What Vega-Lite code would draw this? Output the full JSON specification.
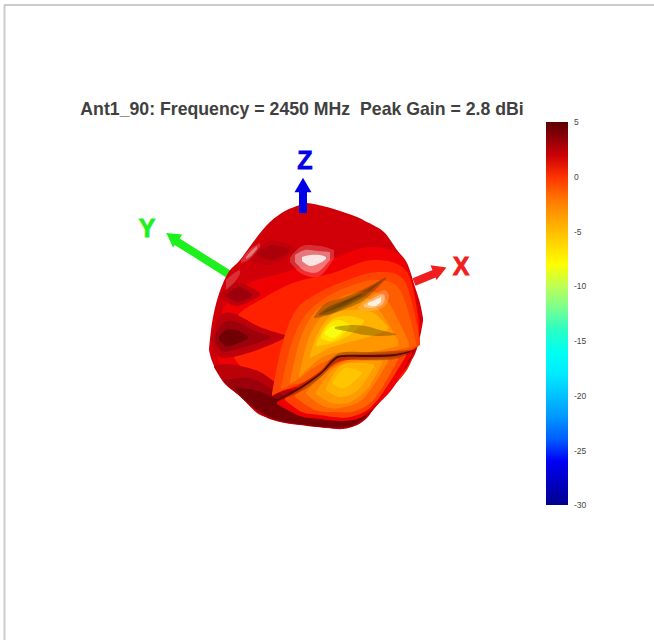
{
"$schema":"https://vega.github.io/schema/vega-lite/v6.json",
"width":654,"height":640,"padding":0,"autosize":"none",
"background":"#ffffff",
"config":{"view":{"stroke":null}},
"datasets":{
"surface":[
{"r":"base","g":1.8,"x":209,"t":350,"b":350},{"r":"base","g":1.8,"x":212,"t":323,"b":361},{"r":"base","g":1.8,"x":218,"t":297,"b":373},{"r":"base","g":1.8,"x":228,"t":273,"b":385},{"r":"base","g":1.8,"x":240,"t":260,"b":396},{"r":"base","g":1.8,"x":257,"t":237,"b":413},{"r":"base","g":1.8,"x":270,"t":222,"b":418},{"r":"base","g":1.8,"x":285,"t":211,"b":423},{"r":"base","g":1.8,"x":300,"t":205,"b":425},{"r":"base","g":1.8,"x":307,"t":203,"b":426},{"r":"base","g":1.8,"x":327,"t":207,"b":428},{"r":"base","g":1.8,"x":343,"t":212,"b":429},{"r":"base","g":1.8,"x":357,"t":217,"b":425},{"r":"base","g":1.8,"x":367,"t":222,"b":418},{"r":"base","g":1.8,"x":373,"t":225,"b":410},{"r":"base","g":1.8,"x":385,"t":233,"b":396},{"r":"base","g":1.8,"x":397,"t":250,"b":379},{"r":"base","g":1.8,"x":407,"t":263,"b":367},{"r":"base","g":1.8,"x":415,"t":287,"b":354},{"r":"base","g":1.8,"x":420,"t":303,"b":337},{"r":"base","g":1.8,"x":423,"t":318,"b":321},
{"r":"m0","g":1.0,"x":214,"t":345,"b":347},{"r":"m0","g":1.0,"x":224,"t":308,"b":372},{"r":"m0","g":1.0,"x":245,"t":285,"b":385},{"r":"m0","g":1.0,"x":293,"t":270,"b":392},{"r":"m0","g":1.0,"x":333,"t":258,"b":398},{"r":"m0","g":1.0,"x":373,"t":247,"b":400},{"r":"m0","g":1.0,"x":405,"t":262,"b":372},{"r":"m0","g":1.0,"x":421,"t":325,"b":328},
{"r":"mid","g":0.3,"x":224,"t":340,"b":342},{"r":"mid","g":0.3,"x":238,"t":315,"b":363},{"r":"mid","g":0.3,"x":260,"t":300,"b":387},{"r":"mid","g":0.3,"x":293,"t":283,"b":387},{"r":"mid","g":0.3,"x":333,"t":273,"b":390},{"r":"mid","g":0.3,"x":373,"t":260,"b":397},{"r":"mid","g":0.3,"x":407,"t":272,"b":370},{"r":"mid","g":0.3,"x":419,"t":325,"b":330},
{"r":"d1a","g":2.3,"x":211,"t":338,"b":342},{"r":"d1a","g":2.3,"x":218,"t":318,"b":356},{"r":"d1a","g":2.3,"x":232,"t":313,"b":357},{"r":"d1a","g":2.3,"x":260,"t":327,"b":349},{"r":"d1a","g":2.3,"x":285,"t":335,"b":338},
{"r":"d1b","g":3.2,"x":214,"t":338,"b":340},{"r":"d1b","g":3.2,"x":222,"t":324,"b":351},{"r":"d1b","g":3.2,"x":234,"t":321,"b":350},{"r":"d1b","g":3.2,"x":255,"t":331,"b":344},{"r":"d1b","g":3.2,"x":270,"t":336,"b":338},
{"r":"d1c","g":4.4,"x":219,"t":337,"b":339},{"r":"d1c","g":4.4,"x":226,"t":330,"b":346},{"r":"d1c","g":4.4,"x":236,"t":330,"b":344},{"r":"d1c","g":4.4,"x":248,"t":336,"b":339},
{"r":"d2a","g":2.3,"x":220,"t":295,"b":297},{"r":"d2a","g":2.3,"x":237,"t":282,"b":306},{"r":"d2a","g":2.3,"x":260,"t":293,"b":296},
{"r":"d2b","g":3.2,"x":226,"t":295,"b":296},{"r":"d2b","g":3.2,"x":238,"t":287,"b":302},{"r":"d2b","g":3.2,"x":252,"t":294,"b":296},
{"r":"d3a","g":2.2,"x":248,"t":258,"b":260},{"r":"d3a","g":2.2,"x":270,"t":241,"b":265},{"r":"d3a","g":2.2,"x":297,"t":248,"b":250},
{"r":"d3b","g":2.8,"x":256,"t":254,"b":255},{"r":"d3b","g":2.8,"x":272,"t":245,"b":260},{"r":"d3b","g":2.8,"x":290,"t":250,"b":252},
{"r":"b0","g":2.4,"x":214,"t":366,"b":367},{"r":"b0","g":2.4,"x":225,"t":364,"b":384},{"r":"b0","g":2.4,"x":240,"t":366,"b":396},{"r":"b0","g":2.4,"x":260,"t":372,"b":414},{"r":"b0","g":2.4,"x":280,"t":385,"b":422},{"r":"b0","g":2.4,"x":307,"t":395,"b":425},{"r":"b0","g":2.4,"x":333,"t":403,"b":428},{"r":"b0","g":2.4,"x":357,"t":403,"b":425},{"r":"b0","g":2.4,"x":373,"t":392,"b":410},{"r":"b0","g":2.4,"x":390,"t":372,"b":387},{"r":"b0","g":2.4,"x":407,"t":350,"b":367},{"r":"b0","g":2.4,"x":419,"t":340,"b":342},
{"r":"b1","g":3.2,"x":224,"t":380,"b":382},{"r":"b1","g":3.2,"x":250,"t":378,"b":405},{"r":"b1","g":3.2,"x":270,"t":388,"b":418},{"r":"b1","g":3.2,"x":290,"t":398,"b":423},{"r":"b1","g":3.2,"x":320,"t":406,"b":427},{"r":"b1","g":3.2,"x":345,"t":408,"b":428},{"r":"b1","g":3.2,"x":365,"t":402,"b":418},{"r":"b1","g":3.2,"x":384,"t":392,"b":394},
{"r":"b2","g":4.3,"x":235,"t":388,"b":389},{"r":"b2","g":4.3,"x":255,"t":390,"b":408},{"r":"b2","g":4.3,"x":275,"t":398,"b":419},{"r":"b2","g":4.3,"x":300,"t":408,"b":424},{"r":"b2","g":4.3,"x":330,"t":416,"b":427},{"r":"b2","g":4.3,"x":350,"t":416,"b":426},{"r":"b2","g":4.3,"x":366,"t":415,"b":417},
{"r":"l0","g":-0.4,"x":272,"t":394,"b":396},{"r":"l0","g":-0.4,"x":282,"t":345,"b":391},{"r":"l0","g":-0.4,"x":296,"t":310,"b":386},{"r":"l0","g":-0.4,"x":318,"t":293,"b":374},{"r":"l0","g":-0.4,"x":345,"t":281,"b":357},{"r":"l0","g":-0.4,"x":378,"t":272,"b":355},{"r":"l0","g":-0.4,"x":405,"t":282,"b":353},{"r":"l0","g":-0.4,"x":420,"t":340,"b":345},
{"r":"l1","g":-1.2,"x":281,"t":388,"b":390},{"r":"l1","g":-1.2,"x":291,"t":345,"b":385},{"r":"l1","g":-1.2,"x":304,"t":317,"b":382},{"r":"l1","g":-1.2,"x":322,"t":300,"b":370},{"r":"l1","g":-1.2,"x":345,"t":288,"b":355},{"r":"l1","g":-1.2,"x":375,"t":280,"b":354},{"r":"l1","g":-1.2,"x":400,"t":290,"b":352},{"r":"l1","g":-1.2,"x":416,"t":342,"b":346},
{"r":"l2","g":-2.2,"x":290,"t":382,"b":384},{"r":"l2","g":-2.2,"x":300,"t":340,"b":378},{"r":"l2","g":-2.2,"x":315,"t":312,"b":367},{"r":"l2","g":-2.2,"x":335,"t":300,"b":358},{"r":"l2","g":-2.2,"x":360,"t":292,"b":354},{"r":"l2","g":-2.2,"x":385,"t":298,"b":352},{"r":"l2","g":-2.2,"x":409,"t":343,"b":347},
{"r":"l3","g":-3.3,"x":299,"t":376,"b":378},{"r":"l3","g":-3.3,"x":309,"t":337,"b":368},{"r":"l3","g":-3.3,"x":325,"t":313,"b":356},{"r":"l3","g":-3.3,"x":345,"t":303,"b":352},{"r":"l3","g":-3.3,"x":370,"t":300,"b":352},{"r":"l3","g":-3.3,"x":398,"t":340,"b":346},
{"r":"l4","g":-4.5,"x":310,"t":356,"b":358},{"r":"l4","g":-4.5,"x":318,"t":333,"b":354},{"r":"l4","g":-4.5,"x":332,"t":315,"b":347},{"r":"l4","g":-4.5,"x":350,"t":310,"b":342},{"r":"l4","g":-4.5,"x":372,"t":312,"b":336},{"r":"l4","g":-4.5,"x":388,"t":327,"b":330},
{"r":"l5","g":-5.8,"x":316,"t":345,"b":346},{"r":"l5","g":-5.8,"x":324,"t":328,"b":345},{"r":"l5","g":-5.8,"x":335,"t":318,"b":342},{"r":"l5","g":-5.8,"x":350,"t":316,"b":335},{"r":"l5","g":-5.8,"x":364,"t":320,"b":322},
{"r":"l6","g":-7,"x":321,"t":336,"b":338},{"r":"l6","g":-7,"x":330,"t":323,"b":341},{"r":"l6","g":-7,"x":340,"t":320,"b":337},{"r":"l6","g":-7,"x":350,"t":325,"b":327},
{"r":"l7","g":-8.3,"x":325,"t":332,"b":334},{"r":"l7","g":-8.3,"x":333,"t":326,"b":338},{"r":"l7","g":-8.3,"x":342,"t":330,"b":332},
{"r":"u0","g":1.0,"x":277,"t":402,"b":404},{"r":"u0","g":1.0,"x":300,"t":389,"b":416},{"r":"u0","g":1.0,"x":320,"t":375,"b":419},{"r":"u0","g":1.0,"x":340,"t":360,"b":421},{"r":"u0","g":1.0,"x":360,"t":357,"b":418},{"r":"u0","g":1.0,"x":380,"t":356,"b":402},{"r":"u0","g":1.0,"x":395,"t":355,"b":385},{"r":"u0","g":1.0,"x":412,"t":351,"b":354},
{"r":"u1","g":-0.3,"x":285,"t":398,"b":400},{"r":"u1","g":-0.3,"x":302,"t":388,"b":412},{"r":"u1","g":-0.3,"x":320,"t":375,"b":415},{"r":"u1","g":-0.3,"x":335,"t":362,"b":417},{"r":"u1","g":-0.3,"x":350,"t":357,"b":417},{"r":"u1","g":-0.3,"x":370,"t":357,"b":408},{"r":"u1","g":-0.3,"x":388,"t":356,"b":385},{"r":"u1","g":-0.3,"x":406,"t":353,"b":356},
{"r":"u2","g":-1.4,"x":295,"t":395,"b":397},{"r":"u2","g":-1.4,"x":315,"t":379,"b":410},{"r":"u2","g":-1.4,"x":335,"t":364,"b":412},{"r":"u2","g":-1.4,"x":355,"t":359,"b":411},{"r":"u2","g":-1.4,"x":375,"t":358,"b":398},{"r":"u2","g":-1.4,"x":398,"t":357,"b":360},
{"r":"u3","g":-2.5,"x":306,"t":392,"b":394},{"r":"u3","g":-2.5,"x":325,"t":373,"b":407},{"r":"u3","g":-2.5,"x":345,"t":361,"b":407},{"r":"u3","g":-2.5,"x":365,"t":360,"b":397},{"r":"u3","g":-2.5,"x":388,"t":359,"b":362},
{"r":"u4","g":-3.5,"x":316,"t":392,"b":394},{"r":"u4","g":-3.5,"x":332,"t":370,"b":403},{"r":"u4","g":-3.5,"x":350,"t":362,"b":402},{"r":"u4","g":-3.5,"x":368,"t":361,"b":388},{"r":"u4","g":-3.5,"x":382,"t":361,"b":364},
{"r":"u5","g":-4.5,"x":326,"t":388,"b":390},{"r":"u5","g":-4.5,"x":340,"t":366,"b":397},{"r":"u5","g":-4.5,"x":358,"t":363,"b":390},{"r":"u5","g":-4.5,"x":374,"t":364,"b":367},
{"r":"u6","g":-5.4,"x":333,"t":382,"b":384},{"r":"u6","g":-5.4,"x":345,"t":368,"b":388},{"r":"u6","g":-5.4,"x":362,"t":372,"b":374},
{"r":"c1","g":4.6,"x":277,"t":400,"b":401},{"r":"c1","g":4.6,"x":300,"t":387,"b":389},{"r":"c1","g":4.6,"x":320,"t":373,"b":375},{"r":"c1","g":4.6,"x":333,"t":359,"b":362},{"r":"c1","g":4.6,"x":343,"t":355,"b":357},{"r":"c1","g":4.6,"x":373,"t":355,"b":357},{"r":"c1","g":4.6,"x":395,"t":354,"b":356},{"r":"c1","g":4.6,"x":410,"t":351,"b":352}
],
"shade":[
{"r":"s0","x":314,"t":317,"b":318},{"r":"s0","x":325,"t":304,"b":316},{"r":"s0","x":345,"t":297,"b":309},{"r":"s0","x":364,"t":289,"b":300},{"r":"s0","x":386,"t":277,"b":279},
{"r":"s1","x":319,"t":314,"b":315},{"r":"s1","x":330,"t":306,"b":314},{"r":"s1","x":345,"t":300,"b":307},{"r":"s1","x":362,"t":292,"b":298},{"r":"s1","x":382,"t":280,"b":281},
{"r":"s2","x":324,"t":312,"b":313},{"r":"s2","x":345,"t":301,"b":305},{"r":"s2","x":362,"t":294,"b":295},
{"r":"s3","x":335,"t":327,"b":329},{"r":"s3","x":350,"t":325,"b":332},{"r":"s3","x":365,"t":326,"b":335},{"r":"s3","x":380,"t":330,"b":336},{"r":"s3","x":396,"t":334,"b":335},
{"r":"s4","x":272,"t":402,"b":403},{"r":"s4","x":300,"t":385,"b":392},{"r":"s4","x":320,"t":371,"b":378},{"r":"s4","x":333,"t":357,"b":365},{"r":"s4","x":345,"t":352,"b":360},{"r":"s4","x":373,"t":352,"b":360},{"r":"s4","x":395,"t":351,"b":359},{"r":"s4","x":414,"t":350,"b":351}
],
"glowFaint":[
{"r":"h1f","x":290,"t":258,"b":262},{"r":"h1f","x":302,"t":246,"b":274},{"r":"h1f","x":320,"t":246,"b":276},{"r":"h1f","x":334,"t":250,"b":258},
{"r":"h2f","x":358,"t":307,"b":309},{"r":"h2f","x":372,"t":296,"b":311},{"r":"h2f","x":384,"t":290,"b":307},{"r":"h2f","x":389,"t":295,"b":298},
{"r":"h3f","x":241,"t":260,"b":263},{"r":"h3f","x":250,"t":249,"b":259},{"r":"h3f","x":260,"t":243,"b":247},
{"r":"h4f","x":226,"t":280,"b":290},{"r":"h4f","x":234,"t":273,"b":283},{"r":"h4f","x":240,"t":270,"b":274}
],
"glowSoft":[
{"r":"h1","x":295,"t":255,"b":262},{"r":"h1","x":305,"t":250,"b":271},{"r":"h1","x":318,"t":251,"b":272},{"r":"h1","x":330,"t":252,"b":260},
{"r":"h2","x":364,"t":305,"b":307},{"r":"h2","x":372,"t":299,"b":308},{"r":"h2","x":382,"t":294,"b":305},{"r":"h2","x":385,"t":296,"b":298},
{"r":"h3","x":246,"t":257,"b":259},{"r":"h3","x":251,"t":251,"b":256},{"r":"h3","x":257,"t":246,"b":249}
],
"glowCore":[
{"r":"h1c","x":302,"t":257,"b":261},{"r":"h1c","x":310,"t":255,"b":266},{"r":"h1c","x":320,"t":255,"b":263},{"r":"h1c","x":326,"t":257,"b":259},
{"r":"h2c","x":368,"t":303,"b":305},{"r":"h2c","x":375,"t":300,"b":306},{"r":"h2c","x":381,"t":297,"b":302}
],
"frame":[
{"x":4,"y":5,"x2":654,"y2":5},{"x":4.5,"y":5,"x2":4.5,"y2":640}
],
"colorbarLabels":[
{"x":574,"y":122,"t":"5"},{"x":574,"y":177,"t":"0"},{"x":574,"y":232,"t":"-5"},{"x":574,"y":286,"t":"-10"},{"x":574,"y":341,"t":"-15"},{"x":574,"y":396,"t":"-20"},{"x":574,"y":451,"t":"-25"},{"x":574,"y":505,"t":"-30"}
]
},
"layer":[
{"data":{"name":"frame"},"mark":{"type":"rule","color":"#cccccc","strokeWidth":2},
 "encoding":{"x":{"field":"x","type":"quantitative","scale":{"domain":[0,654],"nice":false,"zero":false},"axis":null},"y":{"field":"y","type":"quantitative","scale":{"domain":[0,640],"reverse":true,"nice":false,"zero":false},"axis":null},"x2":{"field":"x2"},"y2":{"field":"y2"}}},
{"data":{"values":[{"x":230,"y":275,"x2":176,"y2":241}]},"mark":{"type":"rule","color":"#1ef01e","strokeWidth":8},
 "encoding":{"x":{"field":"x","type":"quantitative","axis":null},"y":{"field":"y","type":"quantitative","axis":null},"x2":{"field":"x2"},"y2":{"field":"y2"}}},
{"data":{"values":[{"x":414,"y":282,"x2":436,"y2":273}]},"mark":{"type":"rule","color":"#f01e1e","strokeWidth":8},
 "encoding":{"x":{"field":"x","type":"quantitative","axis":null},"y":{"field":"y","type":"quantitative","axis":null},"x2":{"field":"x2"},"y2":{"field":"y2"}}},
{"data":{"name":"surface"},"mark":{"type":"area","interpolate":"cardinal","opacity":1},
 "encoding":{"x":{"field":"x","type":"quantitative","axis":null},"y":{"field":"t","type":"quantitative","axis":null},"y2":{"field":"b"},"detail":{"field":"r"},
 "color":{"field":"g","type":"quantitative","scale":{"domain":[-30,-25.6,-16.9,-8.1,0.6,5],"range":["#00008f","#0000ff","#00ffff","#ffff00","#ff0000","#5c0000"]},
 "legend":{"orient":"none","legendX":546,"legendY":122,"direction":"vertical","title":null,"gradientLength":383,"gradientThickness":22,"values":[-30,-25,-20,-15,-10,-5,0,5],"labelExpr":"''","tickCount":35}}}},
{"data":{"name":"colorbarLabels"},"mark":{"type":"text","align":"left","baseline":"middle","font":"Liberation Sans","fontSize":8.5,"color":"#444444"},
 "encoding":{"x":{"field":"x","type":"quantitative","axis":null},"y":{"field":"y","type":"quantitative","axis":null},"text":{"field":"t"}}},
{"data":{"name":"shade"},"mark":{"type":"area","interpolate":"cardinal","color":"#2a2000","opacity":0.3},
 "encoding":{"x":{"field":"x","type":"quantitative","axis":null},"y":{"field":"t","type":"quantitative","axis":null},"y2":{"field":"b"},"detail":{"field":"r"}}},
{"data":{"name":"glowFaint"},"mark":{"type":"area","interpolate":"cardinal","color":"#ffffff","opacity":0.18},
 "encoding":{"x":{"field":"x","type":"quantitative","axis":null},"y":{"field":"t","type":"quantitative","axis":null},"y2":{"field":"b"},"detail":{"field":"r"}}},
{"data":{"name":"glowSoft"},"mark":{"type":"area","interpolate":"cardinal","color":"#ffffff","opacity":0.35},
 "encoding":{"x":{"field":"x","type":"quantitative","axis":null},"y":{"field":"t","type":"quantitative","axis":null},"y2":{"field":"b"},"detail":{"field":"r"}}},
{"data":{"name":"glowCore"},"mark":{"type":"area","interpolate":"cardinal","color":"#ffffff","opacity":0.8},
 "encoding":{"x":{"field":"x","type":"quantitative","axis":null},"y":{"field":"t","type":"quantitative","axis":null},"y2":{"field":"b"},"detail":{"field":"r"}}},
{"data":{"values":[{"x":303,"y":213,"x2":303,"y2":188}]},"mark":{"type":"rule","color":"#0000e6","strokeWidth":8},
 "encoding":{"x":{"field":"x","type":"quantitative","axis":null},"y":{"field":"y","type":"quantitative","axis":null},"x2":{"field":"x2"},"y2":{"field":"y2"}}},
{"data":{"values":[{"x":303,"y":185}]},"mark":{"type":"point","shape":"triangle-up","filled":true,"opacity":1,"color":"#0000e6","size":290},
 "encoding":{"x":{"field":"x","type":"quantitative","axis":null},"y":{"field":"y","type":"quantitative","axis":null}}},
{"data":{"values":[{"x":172,"y":237}]},"mark":{"type":"point","shape":"triangle-up","filled":true,"opacity":1,"color":"#1ef01e","size":260,"angle":-55},
 "encoding":{"x":{"field":"x","type":"quantitative","axis":null},"y":{"field":"y","type":"quantitative","axis":null}}},
{"data":{"values":[{"x":440,"y":270}]},"mark":{"type":"point","shape":"triangle-up","filled":true,"opacity":1,"color":"#f01e1e","size":260,"angle":68},
 "encoding":{"x":{"field":"x","type":"quantitative","axis":null},"y":{"field":"y","type":"quantitative","axis":null}}},
{"data":{"values":[{"x":305,"y":161,"t":"Z"}]},"mark":{"type":"text","font":"Liberation Sans","fontWeight":"bold","fontSize":25,"color":"#0000e6","stroke":"#0000e6","strokeWidth":0.8},
 "encoding":{"x":{"field":"x","type":"quantitative","axis":null},"y":{"field":"y","type":"quantitative","axis":null},"text":{"field":"t"}}},
{"data":{"values":[{"x":147,"y":229,"t":"Y"}]},"mark":{"type":"text","font":"Liberation Sans","fontWeight":"bold","fontSize":25,"color":"#1ef01e","stroke":"#1ef01e","strokeWidth":0.8},
 "encoding":{"x":{"field":"x","type":"quantitative","axis":null},"y":{"field":"y","type":"quantitative","axis":null},"text":{"field":"t"}}},
{"data":{"values":[{"x":461,"y":267,"t":"X"}]},"mark":{"type":"text","font":"Liberation Sans","fontWeight":"bold","fontSize":25,"color":"#f01e1e","stroke":"#f01e1e","strokeWidth":0.8},
 "encoding":{"x":{"field":"x","type":"quantitative","axis":null},"y":{"field":"y","type":"quantitative","axis":null},"text":{"field":"t"}}},
{"data":{"values":[{"x":302,"y":110,"t":"Ant1_90: Frequency = 2450 MHz \u00a0Peak Gain = 2.8 dBi"}]},"mark":{"type":"text","font":"Liberation Sans","fontWeight":"bold","fontSize":17.7,"color":"#404040"},
 "encoding":{"x":{"field":"x","type":"quantitative","axis":null},"y":{"field":"y","type":"quantitative","axis":null},"text":{"field":"t"}}}
]
}
